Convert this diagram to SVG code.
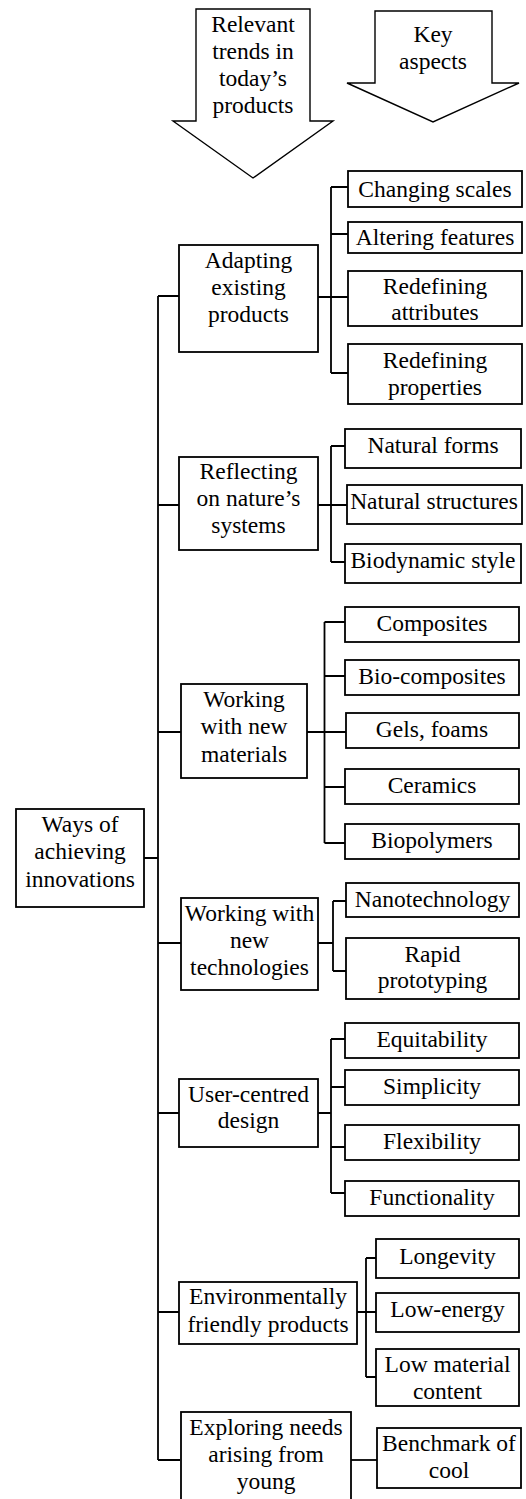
<svg xmlns="http://www.w3.org/2000/svg" width="526" height="1499" viewBox="0 0 526 1499" font-family="'Liberation Serif', 'Times New Roman', 'DejaVu Serif', serif" font-size="23.5">
<style>
.b{fill:#fff;stroke:#000;stroke-width:1.8}
.a{fill:#fff;stroke:#000;stroke-width:1.4;stroke-linejoin:miter}
.c{fill:none;stroke:#000;stroke-width:1.8}
text{fill:#000;text-anchor:middle}
</style>
<rect width="526" height="1499" fill="#fff"/>
<g id="arrow-trends">
<polygon class="a" points="196,9 310,9 310,121 333,121 253,178 173,121 196,121"/>
<text x="253" y="32">Relevant</text>
<text x="253" y="59">trends in</text>
<text x="253" y="86">today’s</text>
<text x="253" y="113">products</text>
</g>
<g id="arrow-aspects">
<polygon class="a" points="375,11 492,11 492,83 519,83 433,122 347,83 375,83"/>
<text x="433" y="42">Key</text>
<text x="433" y="69">aspects</text>
</g>
<g id="connectors">
<path class="c" d="M158,296 V1460 M158,296 H179 M158,505 H179 M158,732 H181 M144,858 H158 M158,943 H181 M158,1113 H179 M158,1312 H179 M158,1460 H180"/>
<path class="c" d="M318,297 H348 M331,187 V373 M331,187 H348 M331,234 H348 M331,373 H348"/>
<path class="c" d="M318,505 H347 M331,446 V562 M331,446 H345 M331,562 H345"/>
<path class="c" d="M307,732 H346 M324.5,622 V843 M324.5,622 H345 M324.5,676 H345 M324.5,787 H345 M324.5,843 H345"/>
<path class="c" d="M318,943 H333 M333,901 V971 M333,901 H346 M333,971 H346"/>
<path class="c" d="M318,1113 H331 M331,1039 V1193 M331,1039 H345 M331,1087 H345 M331,1147 H345 M331,1193 H345"/>
<path class="c" d="M357,1312 H376 M366,1258 V1377 M366,1258 H376 M366,1377 H376"/>
<path class="c" d="M351,1460 H377"/>
</g>
<g id="ways">
<rect class="b" x="16" y="809" width="128" height="98"/>
<text x="80" y="832">Ways of</text>
<text x="80" y="859">achieving</text>
<text x="80" y="887">innovations</text>
</g>
<g id="adapting">
<rect class="b" x="179" y="245" width="139" height="107"/>
<text x="248.5" y="268">Adapting</text>
<text x="248.5" y="295">existing</text>
<text x="248.5" y="322">products</text>
</g>
<g id="changing-scales"><rect class="b" x="348" y="171" width="174" height="36"/><text x="435" y="197">Changing scales</text></g>
<g id="altering-features"><rect class="b" x="348" y="222" width="174" height="31"/><text x="435" y="245">Altering features</text></g>
<g id="redefining-attributes"><rect class="b" x="348" y="271" width="174" height="55"/><text x="435" y="294">Redefining</text><text x="435" y="320">attributes</text></g>
<g id="redefining-properties"><rect class="b" x="348" y="344" width="174" height="60"/><text x="435" y="368">Redefining</text><text x="435" y="395">properties</text></g>
<g id="reflecting">
<rect class="b" x="179" y="457" width="139" height="93"/>
<text x="248.5" y="479">Reflecting</text>
<text x="248.5" y="506">on nature’s</text>
<text x="248.5" y="533">systems</text>
</g>
<g id="natural-forms"><rect class="b" x="345" y="429" width="176" height="39"/><text x="433" y="453">Natural forms</text></g>
<g id="natural-structures"><rect class="b" x="347" y="485" width="175" height="39"/><text x="434" y="509">Natural structures</text></g>
<g id="biodynamic-style"><rect class="b" x="345" y="544" width="176" height="39"/><text x="433" y="568">Biodynamic style</text></g>
<g id="materials">
<rect class="b" x="181" y="684" width="126" height="94"/>
<text x="244" y="707">Working</text>
<text x="244" y="734">with new</text>
<text x="244" y="762">materials</text>
</g>
<g id="composites"><rect class="b" x="345" y="607" width="174" height="35"/><text x="432" y="631">Composites</text></g>
<g id="bio-composites"><rect class="b" x="345" y="660" width="174" height="35"/><text x="432" y="684">Bio-composites</text></g>
<g id="gels-foams"><rect class="b" x="346" y="713" width="173" height="35"/><text x="432" y="737">Gels, foams</text></g>
<g id="ceramics"><rect class="b" x="345" y="769" width="174" height="35"/><text x="432" y="793">Ceramics</text></g>
<g id="biopolymers"><rect class="b" x="345" y="824" width="174" height="35"/><text x="432" y="848">Biopolymers</text></g>
<g id="technologies">
<rect class="b" x="181" y="898" width="137" height="92"/>
<text x="249.5" y="921">Working with</text>
<text x="249.5" y="948">new</text>
<text x="249.5" y="975">technologies</text>
</g>
<g id="nanotechnology"><rect class="b" x="346" y="883" width="173" height="34"/><text x="432.5" y="907">Nanotechnology</text></g>
<g id="rapid-prototyping"><rect class="b" x="346" y="938" width="173" height="61"/><text x="432.5" y="962">Rapid</text><text x="432.5" y="988">prototyping</text></g>
<g id="user-centred">
<rect class="b" x="179" y="1079" width="139" height="68"/>
<text x="248.5" y="1102">User-centred</text>
<text x="248.5" y="1128">design</text>
</g>
<g id="equitability"><rect class="b" x="345" y="1023" width="174" height="35"/><text x="432" y="1047">Equitability</text></g>
<g id="simplicity"><rect class="b" x="345" y="1070" width="174" height="35"/><text x="432" y="1094">Simplicity</text></g>
<g id="flexibility"><rect class="b" x="345" y="1125" width="174" height="35"/><text x="432" y="1149">Flexibility</text></g>
<g id="functionality"><rect class="b" x="345" y="1181" width="174" height="35"/><text x="432" y="1205">Functionality</text></g>
<g id="environmental">
<rect class="b" x="179" y="1282" width="178" height="62"/>
<text x="268" y="1304">Environmentally</text>
<text x="268" y="1332">friendly products</text>
</g>
<g id="longevity"><rect class="b" x="376" y="1239" width="143" height="39"/><text x="447.5" y="1264">Longevity</text></g>
<g id="low-energy"><rect class="b" x="376" y="1293" width="143" height="39"/><text x="447.5" y="1317">Low-energy</text></g>
<g id="low-material"><rect class="b" x="376" y="1349" width="143" height="57"/><text x="447.5" y="1372">Low material</text><text x="447.5" y="1399">content</text></g>
<g id="exploring">
<rect class="b" x="181" y="1412" width="170" height="100"/>
<text x="266" y="1435">Exploring needs</text>
<text x="266" y="1462">arising from</text>
<text x="266" y="1489">young</text>
</g>
<g id="benchmark"><rect class="b" x="377" y="1428" width="144" height="60"/><text x="449" y="1451">Benchmark of</text><text x="449" y="1478">cool</text></g>
</svg>
